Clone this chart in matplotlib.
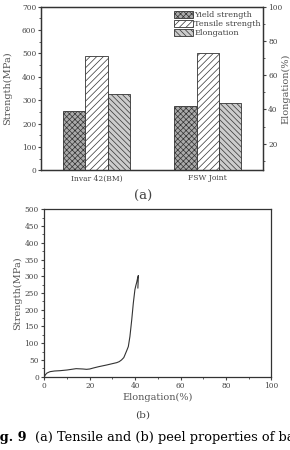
import numpy as np
import matplotlib
matplotlib.use('Agg')
import matplotlib.pyplot as plt
from matplotlib.ticker import MultipleLocator

plt.rcParams['font.family'] = ['DejaVu Serif']
plt.rcParams['hatch.linewidth'] = 0.5

# (a) bar data
grupos = ['Invar 42(BM)', 'FSW Joint']
yield_mpa = [254, 274]
tensile_mpa = [489, 501]
elong_pct = [49, 44]

# (b) curve data: elongation (%) vs strength (MPa)
curva_x = [0, 0.5, 1.2, 2.5, 4.5, 7, 10, 14, 17, 18.6, 20, 21.6, 24, 27.5, 30,
           31.9, 33, 34, 35, 35.5, 36.3, 37, 37.7, 38.5, 39.2, 39.9, 40.3, 40.7,
           41.1, 41.4, 41.3, 41.2]
curva_y = [0, 6, 11, 15, 17, 18, 20, 24, 23, 22, 23, 26, 30, 35, 39,
           42, 45, 50, 57, 65, 78, 90, 120, 170, 220, 260, 272, 282,
           295, 302, 280, 265]

cor = '#333333'
txt = '#444444'
fig = plt.figure(figsize=(2.9, 4.5), dpi=100)

# ---- (a)
ax = fig.add_axes([0.1414, 0.6216, 0.766, 0.3636])
x = np.arange(len(grupos))
w = 0.2
b1 = ax.bar(x - w, yield_mpa, w, facecolor='#aaaaaa', edgecolor=cor, hatch='xxxxxx', lw=0.6)
b2 = ax.bar(x, tensile_mpa, w, facecolor='white', edgecolor=cor, hatch='/////', lw=0.6)
ax.set_xlim(-0.5, 1.5)
ax.set_ylim(0, 700)
ax.set_xticks(x)
ax.set_xticklabels(grupos)
ax.tick_params(axis='x', length=0, labelsize=5.5, colors=txt, pad=3)
ax.yaxis.set_major_locator(MultipleLocator(100))
ax.yaxis.set_minor_locator(MultipleLocator(50))
ax.tick_params(axis='y', which='major', direction='out', length=2.5, labelsize=5.3,
               colors=txt, pad=1)
ax.tick_params(axis='y', which='minor', direction='out', length=1.5, colors=txt)
ax.set_ylabel('Strength(MPa)', fontsize=7, color='#555555')
ax.yaxis.set_label_coords(-0.13, 0.5)

ax2 = ax.twinx()
b3 = ax2.bar(x + w, elong_pct, w, facecolor='#cccccc', edgecolor=cor, hatch='\\\\\\\\\\\\', lw=0.6)
ax2.set_ylim(4.5, 100)
ax2.yaxis.set_major_locator(MultipleLocator(20))
ax2.yaxis.set_minor_locator(MultipleLocator(10))
ax2.tick_params(axis='y', which='major', direction='out', length=2.5, labelsize=5.3,
                colors=txt, pad=1)
ax2.tick_params(axis='y', which='minor', direction='out', length=1.5, colors=txt)
ax2.set_ylabel('Elongation(%)', fontsize=7, color='#555555')
ax2.yaxis.set_label_coords(1.08, 0.5)
for a in (ax, ax2):
    for s in a.spines.values():
        s.set_color(cor)
        s.set_linewidth(0.9)

leg = ax2.legend([b1, b2, b3], ['Yield strength', 'Tensile strength', 'Elongation'],
                 loc='upper left', bbox_to_anchor=(0.6, 0.976), bbox_transform=fig.transFigure,
                 frameon=False, fontsize=5.9, handlelength=2.3, handleheight=0.9,
                 handletextpad=0.15, labelspacing=0.12, borderpad=0, borderaxespad=0)
for t in leg.get_texts():
    t.set_color(txt)

fig.text(0.493, 0.564, '(a)', ha='center', va='center', fontsize=9.5, color=txt)

# ---- (b)
bx = fig.add_axes([0.1528, 0.1629, 0.783, 0.372])
bx.plot(curva_x, curva_y, color=cor, lw=0.8)
bx.set_xlim(0, 100)
bx.set_ylim(0, 500)
bx.xaxis.set_major_locator(MultipleLocator(20))
bx.xaxis.set_minor_locator(MultipleLocator(10))
bx.yaxis.set_major_locator(MultipleLocator(50))
bx.yaxis.set_minor_locator(MultipleLocator(25))
bx.tick_params(which='major', direction='out', length=2.5, labelsize=5.3, colors=txt, pad=1.5)
bx.tick_params(which='minor', direction='out', length=1.5, colors=txt)
bx.set_xlabel('Elongation(%)', fontsize=7, color='#555555', labelpad=2)
bx.set_ylabel('Strength(MPa)', fontsize=7, color='#555555', labelpad=2)
for s in bx.spines.values():
    s.set_color(cor)
    s.set_linewidth(0.9)

fig.text(0.493, 0.078, '(b)', ha='center', va='center', fontsize=7.5, color=txt)

# caption, cut at both sides like the source page
fig.text(0.09, 0.028, 'Fig. 9', ha='right', va='center', fontsize=9.3, fontweight='bold')
fig.text(0.12, 0.028, '(a) Tensile and (b) peel properties of base metal',
         ha='left', va='center', fontsize=9.3)

fig.savefig('out.png', dpi=100)
